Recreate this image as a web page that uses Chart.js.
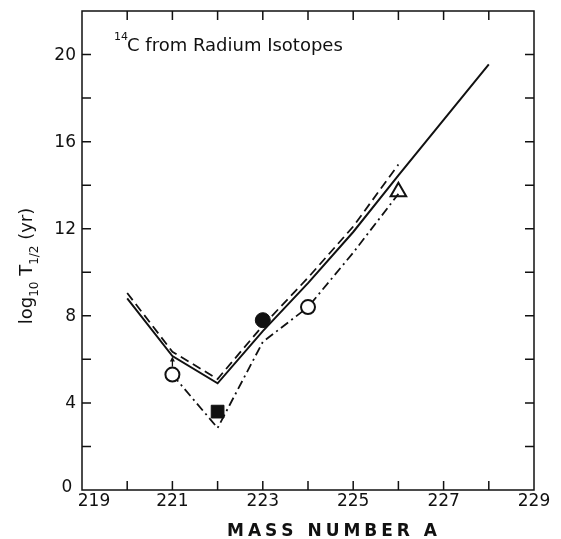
<!DOCTYPE html>
<html>
<head>
<meta charset="utf-8">
<script src="https://cdn.jsdelivr.net/npm/chart.js@4/dist/chart.umd.min.js"></script>
<style>
  body { margin: 0; background: #fff; }
  #wrap { width: 561px; height: 539px; }
</style>
</head>
<body>
<div id="wrap"><canvas id="chart" width="561" height="539"></canvas></div>
<script>
// Valores
const massSolid = [220, 221, 222, 223, 224, 225, 226, 227, 228];
const solidVals = [8.8, 6.15, 4.9, 7.3, 9.5, 11.85, 14.45, 17.0, 19.55];

const massDashed = [220, 221, 222, 223, 224, 225, 226];
const dashedVals = [9.05, 6.35, 5.1, 7.55, 9.75, 12.1, 14.95];

const massDashDot = [221, 222, 223, 224, 225, 226];
const dashDotVals = [5.3, 2.85, 6.8, 8.4, 10.9, 13.6];

const openCircleMass = [221, 224];
const openCircleVals = [5.3, 8.4];
const filledCircleMass = [223];
const filledCircleVals = [7.8];
const squareMass = [222];
const squareVals = [3.6];
const triangleMass = [226];
const triangleVals = [13.7];

const xTickLabels = [219, 221, 223, 225, 227, 229];
const yTickLabels = [0, 4, 8, 12, 16, 20];

const INK = '#111';
const FONT = '"DejaVu Sans", sans-serif';

const pts = (xs, ys) => xs.map((x, i) => ({ x: x, y: ys[i] }));

// Marco, ticks hacia adentro, etiquetas y titulos
const framePlugin = {
  id: 'frame',
  afterDraw(chart) {
    const ctx = chart.ctx;
    const a = chart.chartArea;
    const xs = chart.scales.x;
    const ys = chart.scales.y;
    const tl = 9;

    ctx.save();
    ctx.strokeStyle = INK;
    ctx.lineWidth = 1.5;
    ctx.strokeRect(a.left, a.top, a.right - a.left, a.bottom - a.top);

    ctx.beginPath();
    for (let m = 220; m <= 228; m++) {
      const px = xs.getPixelForValue(m);
      ctx.moveTo(px, a.bottom); ctx.lineTo(px, a.bottom - tl);
      ctx.moveTo(px, a.top); ctx.lineTo(px, a.top + tl);
    }
    for (let v = 2; v <= 20; v += 2) {
      const py = ys.getPixelForValue(v);
      ctx.moveTo(a.left, py); ctx.lineTo(a.left + tl, py);
      ctx.moveTo(a.right, py); ctx.lineTo(a.right - tl, py);
    }
    ctx.stroke();

    // flecha pequena sobre el circulo de 221
    const cx = xs.getPixelForValue(openCircleMass[0]);
    const cy = ys.getPixelForValue(openCircleVals[0]);
    ctx.lineWidth = 1.3;
    ctx.beginPath();
    ctx.moveTo(cx, cy - 8); ctx.lineTo(cx, cy - 16);
    ctx.stroke();
    ctx.beginPath();
    ctx.moveTo(cx - 2.5, cy - 13); ctx.lineTo(cx, cy - 18); ctx.lineTo(cx + 2.5, cy - 13);
    ctx.closePath();
    ctx.fillStyle = INK;
    ctx.fill();

    // etiquetas de ticks
    ctx.fillStyle = INK;
    ctx.font = '17px ' + FONT;
    ctx.textBaseline = 'middle';
    ctx.textAlign = 'right';
    yTickLabels.forEach(v => {
      if (v === 0) return;
      ctx.fillText(String(v), a.left - 6, ys.getPixelForValue(v) + 1);
    });
    ctx.textAlign = 'center';
    ctx.fillText('0', a.left - 15, ys.getPixelForValue(0) - 2);
    ctx.textBaseline = 'top';
    xTickLabels.forEach(m => {
      let px = xs.getPixelForValue(m);
      if (m === 219) px += 12;
      ctx.fillText(String(m), px, a.bottom + 3);
    });

    // titulo eje x con espaciado
    ctx.font = 'bold 17px ' + FONT;
    ctx.textBaseline = 'alphabetic';
    ctx.textAlign = 'left';
    const xt = 'MASS NUMBER A';
    const targetW = 210;
    let w = 0;
    const cw = [...xt].map(c => ctx.measureText(c).width);
    cw.forEach(c => w += c);
    const sp = (targetW - w) / (xt.length - 1);
    let px = 332 - targetW / 2;
    [...xt].forEach((c, i) => { ctx.fillText(c, px, 536); px += cw[i] + sp; });

    // titulo eje y: log10 T1/2 (yr)
    const parts = [
      { t: 'log', f: '18px ' + FONT, d: 0 },
      { t: '10', f: '12px ' + FONT, d: 6 },
      { t: ' T', f: '18px ' + FONT, d: 0 },
      { t: '1/2', f: '12px ' + FONT, d: 6 },
      { t: ' (yr)', f: '18px ' + FONT, d: 0 }
    ];
    let total = 0;
    parts.forEach(p => { ctx.font = p.f; p.w = ctx.measureText(p.t).width; total += p.w; });
    ctx.save();
    ctx.translate(32, 266);
    ctx.rotate(-Math.PI / 2);
    let tx = -total / 2;
    parts.forEach(p => { ctx.font = p.f; ctx.fillText(p.t, tx, p.d); tx += p.w; });
    ctx.restore();

    // titulo interno
    ctx.font = '11px ' + FONT;
    ctx.fillText('14', 114, 40);
    ctx.font = '18px ' + FONT;
    ctx.fillText('C from Radium Isotopes', 127, 51);
    ctx.restore();
  }
};

new Chart(document.getElementById('chart'), {
  type: 'line',
  data: {
    datasets: [
      {
        label: 'solid',
        data: pts(massSolid, solidVals),
        borderColor: INK, borderWidth: 2, pointRadius: 0, tension: 0, order: 3
      },
      {
        label: 'dashed',
        data: pts(massDashed, dashedVals),
        borderColor: INK, borderWidth: 1.8, borderDash: [9, 5], pointRadius: 0, tension: 0, order: 3
      },
      {
        label: 'dashdot',
        data: pts(massDashDot, dashDotVals),
        borderColor: INK, borderWidth: 1.8, borderDash: [9, 4, 2, 4], pointRadius: 0, tension: 0, order: 3
      },
      {
        label: 'open circles',
        data: pts(openCircleMass, openCircleVals),
        showLine: false, pointStyle: 'circle', pointRadius: 7,
        pointBackgroundColor: '#fff', pointBorderColor: INK, pointBorderWidth: 2, order: 1
      },
      {
        label: 'filled circle',
        data: pts(filledCircleMass, filledCircleVals),
        showLine: false, pointStyle: 'circle', pointRadius: 7.5,
        pointBackgroundColor: INK, pointBorderColor: INK, pointBorderWidth: 1, order: 1
      },
      {
        label: 'square',
        data: pts(squareMass, squareVals),
        showLine: false, pointStyle: 'rect', pointRadius: 9,
        pointBackgroundColor: INK, pointBorderColor: INK, pointBorderWidth: 1, order: 1
      },
      {
        label: 'triangle',
        data: pts(triangleMass, triangleVals),
        showLine: false, pointStyle: 'triangle', pointRadius: 9,
        pointBackgroundColor: 'rgba(255,255,255,0)', pointBorderColor: INK, pointBorderWidth: 2, order: 1
      }
    ]
  },
  options: {
    responsive: false,
    animation: false,
    layout: { padding: { top: 8, right: 27, left: 0, bottom: 0 } },
    plugins: { legend: { display: false }, tooltip: { enabled: false } },
    scales: {
      x: {
        type: 'linear', min: 219, max: 229,
        grid: { display: false }, border: { display: false },
        ticks: { display: false },
        afterFit(s) { s.height = 49; }
      },
      y: {
        type: 'linear', min: 0, max: 22,
        grid: { display: false }, border: { display: false },
        ticks: { display: false },
        afterFit(s) { s.width = 82; }
      }
    }
  },
  plugins: [framePlugin]
});
</script>
</body>
</html>
